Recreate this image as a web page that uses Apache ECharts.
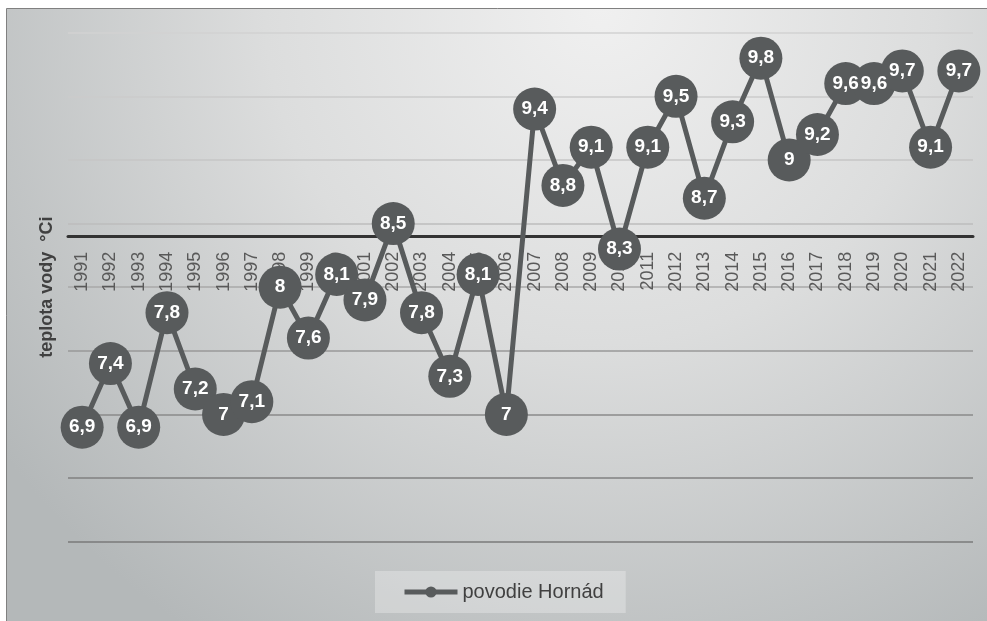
<!DOCTYPE html>
<html>
<head>
<meta charset="utf-8">
<script src="https://cdn.jsdelivr.net/npm/echarts@6/dist/echarts.min.js"></script>
<style>
	html, body { margin: 0; padding: 0; background: #fff; }
	#main { width: 987px; height: 621px; }
</style>
</head>
<body>
<div id="main"></div>
<script>
// roky a priemerna teplota vody
var years = ['1991', '1992', '1993', '1994', '1995', '1996', '1997', '1998', '1999', '2000',
	'2001', '2002', '2003', '2004', '2005', '2006', '2007', '2008', '2009', '2010',
	'2011', '2012', '2013', '2014', '2015', '2016', '2017', '2018', '2019', '2020',
	'2021', '2022'];
var hornad = [6.9, 7.4, 6.9, 7.8, 7.2, 7, 7.1, 8, 7.6, 8.1,
	7.9, 8.5, 7.8, 7.3, 8.1, 7, 9.4, 8.8, 9.1, 8.3,
	9.1, 9.5, 8.7, 9.3, 9.8, 9, 9.2, 9.6, 9.6, 9.7,
	9.1, 9.7];
var seriesName = 'povodie Hornád';
var axisTitle = 'teplota vody  °Ci';
var yMin = 6, yMax = 10, yStep = 0.5;

var TempChart = {
	init: function() {
		this.chart = echarts.init(document.getElementById('main'), null, { renderer: 'canvas' });
		this.chart.setOption(this.option(), true);
	},
	option: function() {
		var dark = '#585b5c';
		return {
			animation: false,
			backgroundColor: '#fff',
			textStyle: { fontFamily: 'Liberation Sans, Arial, sans-serif' },
			//pozadie grafu
			graphic: [{
				type: 'rect',
				z: -100,
				shape: { x: 6.5, y: 8.5, width: 990, height: 620 },
				style: {
					fill: new echarts.graphic.RadialGradient(0.6, 0.0, 1.2, [
						{ offset: 0, color: '#f0f0f0' },
						{ offset: 0.45, color: '#dcdddd' },
						{ offset: 1, color: '#b4b8b9' }
					]),
					stroke: '#808080',
					lineWidth: 1
				}
			}],
			grid: { left: 68, right: 14, top: 32.7, bottom: 79.3 },
			legend: {
				data: [seriesName],
				left: 375,
				top: 571,
				padding: [11, 22, 11, 27],
				backgroundColor: 'rgba(255,255,255,0.28)',
				itemWidth: 53,
				itemHeight: 14,
				itemGap: 5,
				lineStyle: { width: 5 },
				textStyle: { color: '#404040', fontSize: 20 }
			},
			xAxis: {
				type: 'category',
				data: years,
				boundaryGap: true,
				offset: -305,
				axisLine: { lineStyle: { color: '#333', width: 3 } },
				axisTick: { show: false },
				axisLabel: {
					interval: 0,
					rotate: 90,
					margin: 15,
					fontSize: 18,
					color: '#595959'
				},
				splitLine: { show: false }
			},
			yAxis: {
				type: 'value',
				min: yMin,
				max: yMax,
				interval: yStep,
				name: axisTitle,
				nameLocation: 'middle',
				nameGap: 12,
				nameTextStyle: { fontSize: 18, fontWeight: 'bold', color: '#404040' },
				axisLine: { show: false },
				axisTick: { show: false },
				axisLabel: { show: false },
				splitLine: {
					lineStyle: {
						width: 1.5,
						color: ['#7a7a7a', '#808080', '#8a8a8a', '#999', '#a9a9a9', '#bdbdbd', '#c6c6c6', '#cbcbcb', '#d2d2d2']
					}
				}
			},
			series: [{
				name: seriesName,
				type: 'line',
				data: hornad,
				symbol: 'circle',
				symbolSize: 43,
				lineStyle: { color: dark, width: 5 },
				itemStyle: { color: dark },
				label: {
					show: true,
					position: 'inside',
					color: '#fff',
					fontSize: 19,
					fontWeight: 'bold',
					formatter: function(p) {
						return String(p.value).replace('.', ',');
					}
				}
			}]
		};
	}
};
TempChart.init();
</script>
</body>
</html>
